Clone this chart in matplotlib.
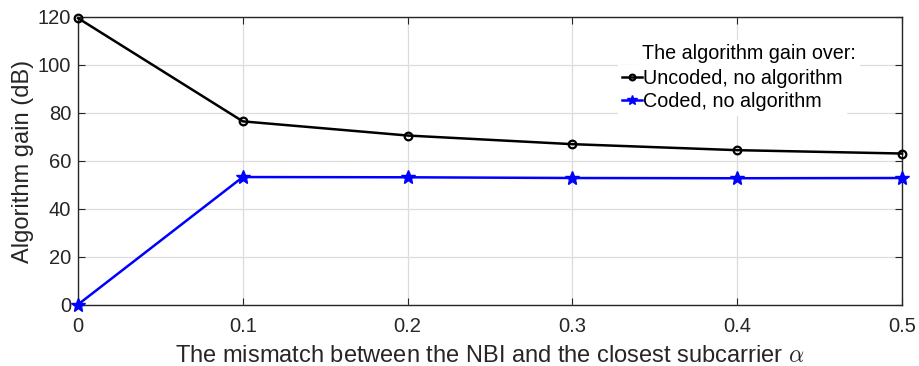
import matplotlib
matplotlib.use("Agg")
import matplotlib.pyplot as plt

# Data
alpha = [0, 0.1, 0.2, 0.3, 0.4, 0.5]
uncoded_gain = [119.5, 76.5, 70.6, 67.0, 64.5, 63.1]
coded_gain = [0.2, 53.3, 53.2, 52.9, 52.8, 52.9]

xticks = [0, 0.1, 0.2, 0.3, 0.4, 0.5]
xtick_labels = ["0", "0.1", "0.2", "0.3", "0.4", "0.5"]
yticks = [0, 20, 40, 60, 80, 100, 120]

plt.rcParams["font.family"] = ["Liberation Sans", "DejaVu Sans"]
plt.rcParams["mathtext.fontset"] = "cm"

fig = plt.figure(figsize=(9.19, 3.66), dpi=100)
ax = fig.add_axes([0.0849, 0.1667, 0.8966, 0.787])

ax.plot(alpha, uncoded_gain, color="black", marker="o", markersize=5.5,
        markerfacecolor="none", markeredgewidth=1.6, linewidth=1.8,
        label="Uncoded, no algorithm", clip_on=False, zorder=3)
ax.plot(alpha, coded_gain, color="blue", marker="*", markersize=10,
        linewidth=1.8, label="Coded, no algorithm", clip_on=False, zorder=3)

ax.set_xlim(0, 0.5)
ax.set_ylim(0, 120)
ax.set_xticks(xticks)
ax.set_xticklabels(xtick_labels)
ax.set_yticks(yticks)
ax.grid(True, color="#dcdcdc", linewidth=0.9)
ax.set_axisbelow(True)

for s in ax.spines.values():
    s.set_color("#262626")
    s.set_linewidth(1.0)
ax.tick_params(direction="in", length=5, colors="#262626", labelsize=14.5,
               top=True, right=True)
ax.tick_params(axis="x", pad=9)
ax.tick_params(axis="y", pad=5)

ax.set_xlabel(r"The mismatch between the NBI and the closest subcarrier $\alpha$",
              fontsize=17, color="#262626", labelpad=6)
ax.set_ylabel("Algorithm gain (dB)", fontsize=17, color="#262626", labelpad=3)

# legend entries, title drawn separately (left aligned with the entry text)
leg = ax.legend(loc="upper left", bbox_to_anchor=(0.6725, 0.822),
                bbox_transform=fig.transFigure, borderaxespad=0,
                fontsize=14.2, frameon=True, handlelength=1.0,
                handletextpad=0.05, borderpad=0.2, labelspacing=0.18,
                markerscale=0.75, fancybox=False)
leg.get_frame().set_edgecolor("white")
leg.get_frame().set_facecolor("white")
leg.get_frame().set_alpha(1.0)

fig.text(0.6986, 0.853, "The algorithm gain over:", fontsize=14.2,
         color="black", va="center", ha="left",
         bbox=dict(facecolor="white", edgecolor="none", pad=3))

fig.savefig("out.png", dpi=100)
